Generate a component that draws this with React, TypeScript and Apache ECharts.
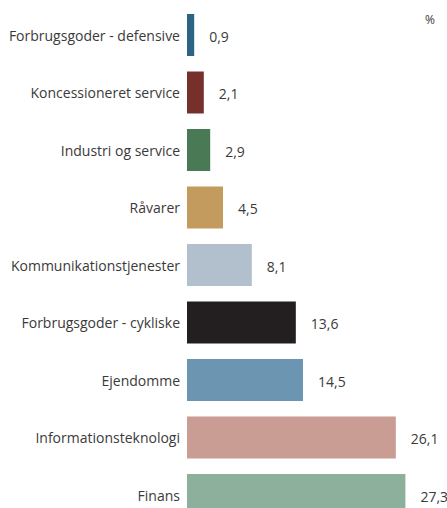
import React, { useEffect, useRef } from "react";
import * as echarts from "echarts";

const categories = [
  "Forbrugsgoder - defensive",
  "Koncessioneret service",
  "Industri og service",
  "Råvarer",
  "Kommunikationstjenester",
  "Forbrugsgoder - cykliske",
  "Ejendomme",
  "Informationsteknologi",
  "Finans",
];
const values = [0.9, 2.1, 2.9, 4.5, 8.1, 13.6, 14.5, 26.1, 27.3];
const colors = [
  "#2e6483",
  "#76302b",
  "#4a7a55",
  "#c49b5e",
  "#b2bfcc",
  "#231f20",
  "#6c95b2",
  "#c99c94",
  "#8db09c",
];
const unitLabel = "%";

export default function App() {
  const ref = useRef<HTMLDivElement>(null);
  useEffect(() => {
    document.body.style.margin = "0";
    const chart = echarts.init(ref.current!, undefined, { renderer: "svg" });
    const font = "'Open Sans', sans-serif";
    chart.setOption({
      animation: false,
      grid: { left: 187, right: 20, top: 6.25, height: 517.5, outerBoundsMode: "none", containLabel: false },
      xAxis: { type: "value", min: 0, max: 30, show: false },
      yAxis: {
        type: "category",
        data: categories,
        inverse: true,
        axisLine: { show: false },
        axisTick: { show: false },
        axisLabel: {
          margin: 7,
          color: "#3a3a3a",
          fontSize: 14,
          fontFamily: font,
        },
      },
      graphic: [
        {
          type: "text",
          right: 12,
          top: 13,
          style: { text: unitLabel, fill: "#3a3a3a", fontSize: 12, fontFamily: font },
        },
      ],
      series: [
        {
          type: "bar",
          barWidth: 42,
          data: values.map((v, i) => ({ value: v, itemStyle: { color: colors[i] } })),
          label: {
            show: true,
            position: "right",
            distance: 15,
            offset: [0, 1],
            color: "#3a3a3a",
            fontSize: 14,
            fontFamily: font,
            formatter: (p: any) => String(p.value).replace(".", ","),
          },
        },
      ],
    });
    return () => chart.dispose();
  }, []);
  return <div ref={ref} style={{ width: 447, height: 508 }} />;
}
